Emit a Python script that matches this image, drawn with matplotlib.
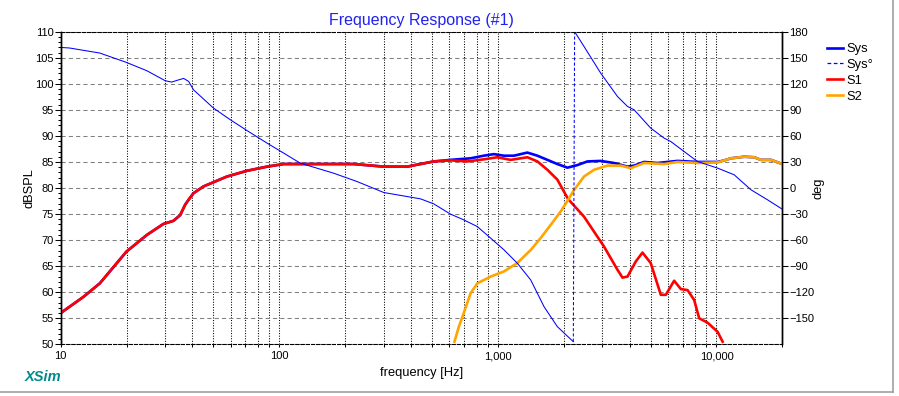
import numpy as np
import matplotlib.pyplot as plt
from matplotlib.lines import Line2D
from matplotlib.ticker import FixedLocator, NullFormatter

plt.rcParams['font.family'] = ['Liberation Sans', 'DejaVu Sans']

# magnitude of the summed system [Hz], [dB]
sys_f = [10, 12.7, 15.1, 20.0, 24.8, 29.5, 32.8, 35.2, 37.1, 38.4, 40.5, 45.0, 57.6,
         71.1, 87.9, 104.7, 124.7, 177, 219, 300.6, 384.6, 509, 607, 750, 862, 958,
         1067, 1184, 1364, 1516, 1684, 1871, 2080, 2311, 2568, 2951, 3400, 3917, 4198,
         4665, 5370, 6633, 8185, 10116, 10850, 11640, 13390, 14880, 15970, 17750, 20000]
sys_db = [56.0, 59.1, 61.7, 67.8, 71.0, 73.1, 73.7, 74.8, 76.8, 77.7, 79.0, 80.3, 82.2,
          83.3, 84.1, 84.6, 84.6, 84.6, 84.6, 84.1, 84.1, 85.1, 85.4, 85.7, 86.2, 86.5,
          86.2, 86.2, 86.8, 86.2, 85.4, 84.6, 83.9, 84.4, 85.1, 85.2, 84.8, 84.1, 84.3,
          85.0, 84.8, 85.2, 85.0, 85.0, 85.3, 85.7, 86.0, 85.9, 85.4, 85.4, 84.6]

# system phase, before and after the wrap at -180/+180
ph1_f = [10, 11.0, 15.1, 20.0, 24.8, 30.1, 32.2, 34.0, 36.5, 38.5, 40.5, 50, 59.7, 71.1,
         87.9, 104.7, 124.7, 177, 227, 300.6, 442.6, 509, 607, 698, 805, 927, 1067,
         1227, 1413, 1626, 1871, 2213]
ph1_deg = [161.9, 161.2, 155.4, 144.6, 135, 123.5, 122, 123.9, 126.2, 122.7, 113.1, 92,
           78.6, 66.2, 51.7, 40.2, 28.6, 17.1, 7.4, -5.2, -12.5, -18.3, -30.1, -36.7,
           -44.4, -57.8, -71.3, -86.6, -105.9, -136.7, -159.7, -177]
ph2_f = [2244, 2477, 2951, 3524, 3917, 4198, 5000, 5754, 6180, 7112, 8185, 10116, 12050,
         14390, 17140, 20000]
ph2_deg = [180, 163, 132.4, 105.4, 93.9, 90.1, 69, 57.5, 53.5, 42, 30.5, 22.9, 15.2,
           -2.1, -13.7, -24.4]

# woofer S1
s1_f = [10, 12.7, 15.1, 20.0, 24.8, 29.5, 32.8, 35.2, 37.1, 38.4, 40.5, 45.0, 57.6, 71.1,
        87.9, 104.7, 124.7, 177, 219, 300.6, 384.6, 509, 607, 724, 862, 993, 1143, 1364,
        1516, 1684, 1871, 2093, 2477, 3059, 3524, 3715, 3917, 4274, 4586, 5000, 5563,
        5865, 6401, 6869, 7374, 7905, 8332, 9104, 10116, 10667]
s1_db = [56.0, 59.1, 61.7, 67.8, 71.0, 73.1, 73.7, 74.8, 76.8, 77.7, 79.0, 80.3, 82.2,
         83.3, 84.1, 84.6, 84.6, 84.6, 84.6, 84.1, 84.1, 85.1, 85.3, 85.1, 85.5, 85.9,
         85.4, 85.9, 85.1, 83.5, 81.6, 77.9, 74.5, 68.75, 64.3, 62.8, 63.0, 65.9, 67.6,
         65.6, 59.5, 59.5, 62.2, 60.6, 60.4, 58.5, 55.0, 54.15, 52.4, 50.5]

# tweeter S2
s2_f = [633, 663, 698, 750, 805, 927, 1067, 1227, 1413, 1569, 1743, 1938, 2093, 2229,
        2477, 2754, 3170, 3650, 4054, 4665, 5754, 6633, 8185, 10116, 11640, 13390, 14880,
        15970, 17750, 20000]
s2_db = [50.5, 53.4, 56.0, 59.8, 61.7, 63.0, 64.0, 65.6, 68.1, 70.4, 72.9, 75.5, 77.7,
         79.6, 82.2, 83.5, 84.3, 84.3, 83.8, 84.8, 84.6, 85.0, 84.8, 84.9, 85.7, 86.0,
         85.9, 85.4, 85.4, 84.6]

fig = plt.figure(figsize=(8.99, 3.96), dpi=100)
ax = fig.add_axes([60.7 / 899, 1 - 344.3 / 396, (782.3 - 60.7) / 899, (344.3 - 31.7) / 396])

ax.plot(sys_f, sys_db, color='#0000ff', lw=1.9, zorder=3, label='Sys')
ax.plot(s1_f, s1_db, color='#ff0000', lw=1.9, zorder=4, label='S1')
ax.plot(s2_f, s2_db, color='#ffa500', lw=1.9, zorder=5, label='S2')

ax2 = ax.twinx()
ax2.plot(ph1_f, ph1_deg, color='#0000ff', lw=0.75)
ax2.plot(ph2_f, ph2_deg, color='#0000ff', lw=0.75)
ax2.plot([ph1_f[-1], ph2_f[0]], [ph1_deg[-1], ph2_deg[0]], color='#0000ff', lw=0.75,
         linestyle=(0, (3, 2)))

ax.set_xscale('log')
ax.set_xlim(10, 20000)
ax.set_ylim(50, 110)
ax2.set_ylim(-180, 180)

ax.set_yticks(np.arange(50, 111, 5))
ax.yaxis.set_minor_locator(FixedLocator(np.arange(50, 111, 1)))
ax2.set_yticks(np.arange(-150, 181, 30))
ax2.yaxis.set_minor_locator(FixedLocator([]))

ax.set_xticks([10, 100, 1000, 10000])
ax.set_xticklabels(['10', '100', '1,000', '10,000'])
minor_x = [m * d for d in (10, 100, 1000) for m in range(2, 10)] + [m * 10000 for m in (2,)]
ax.xaxis.set_minor_locator(FixedLocator(minor_x))
ax.xaxis.set_minor_formatter(NullFormatter())

ax.grid(axis='y', which='major', color='#808080', lw=0.75, linestyle=(0, (4, 3)))
ax.grid(axis='x', which='both', color='black', lw=0.75, linestyle=(0, (1, 1.5)))

ax.tick_params(axis='y', which='major', length=4, width=0.75, pad=1, labelsize=8)
ax.tick_params(axis='y', which='minor', length=2, width=0.75)
ax.tick_params(axis='x', which='both', length=2, width=0.75, pad=3, labelsize=8)
ax2.tick_params(axis='y', which='major', length=4, width=0.75, pad=1, labelsize=8)

for a in (ax, ax2):
    a.spines['left'].set_linewidth(1)
    a.spines['right'].set_linewidth(1)
    a.spines['top'].set_linestyle((0, (3, 2)))
    a.spines['bottom'].set_linestyle((0, (3, 2)))
    a.spines['top'].set_linewidth(0.75)
    a.spines['bottom'].set_linewidth(0.75)

ax.set_title('Frequency Response (#1)', color='#2222ee', fontsize=11.5, pad=5)
ax.set_xlabel('frequency [Hz]', fontsize=9.3, labelpad=4)
ax.set_ylabel('dBSPL', fontsize=9.3, labelpad=-0.5)
ax2.set_ylabel('deg', fontsize=9.3, rotation=90, labelpad=-1)

handles = [Line2D([], [], color='#0000ff', lw=1.9),
           Line2D([], [], color='#0000ff', lw=0.9, linestyle=(0, (3, 2))),
           Line2D([], [], color='#ff0000', lw=1.9),
           Line2D([], [], color='#ffa500', lw=1.9)]
fig.legend(handles, ['Sys', 'Sys°', 'S1', 'S2'], loc='upper left',
           bbox_to_anchor=(826.7 / 899, 1 - 43 / 396), frameon=False, fontsize=9.3,
           handlelength=1.25, handletextpad=0.3, labelspacing=0.3, borderpad=0,
           borderaxespad=0)

fig.text(25 / 899, 1 - 377 / 396, 'XSim', color='#008b8b', fontsize=10.5,
         fontweight='bold', fontstyle='italic', va='center', ha='left')

# panel border on the right and bottom
fig.add_artist(Line2D([893 / 899, 893 / 899], [1, 1 - 392 / 396], color='#a0a0a0', lw=1.2))
fig.add_artist(Line2D([0, 893 / 899], [1 - 392 / 396, 1 - 392 / 396], color='#a0a0a0', lw=1.2))

fig.savefig('out.png', dpi=100)
